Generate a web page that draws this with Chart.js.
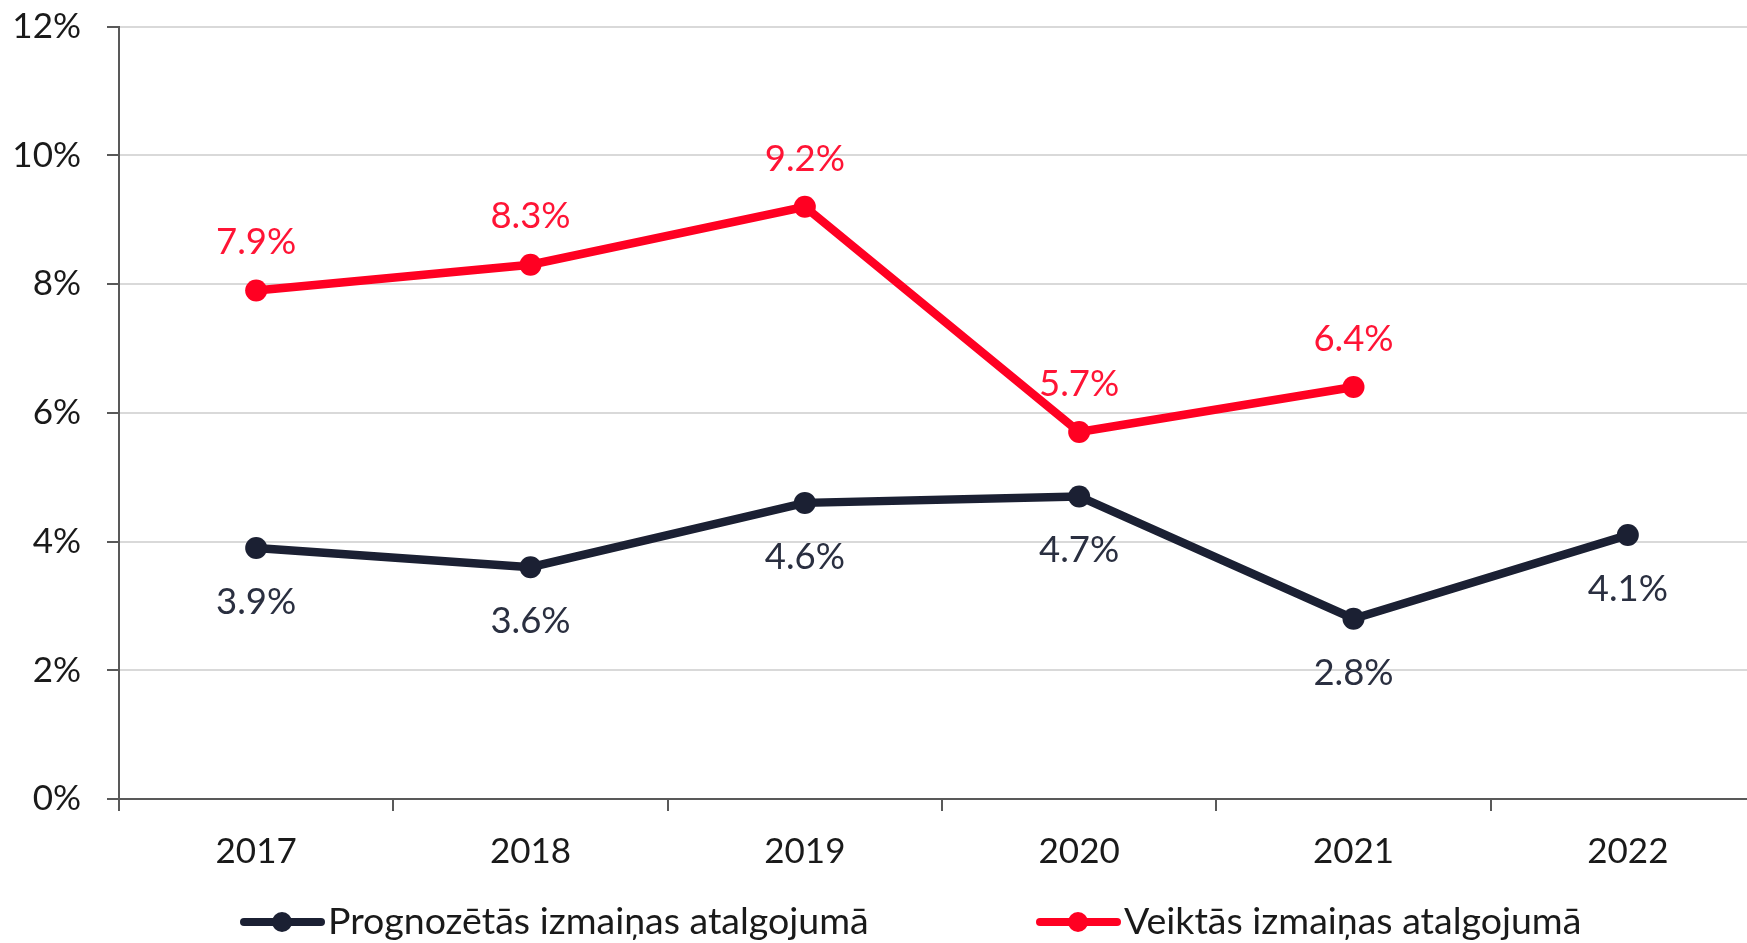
<!DOCTYPE html>
<html><head><meta charset="utf-8">
<script src="https://cdn.jsdelivr.net/npm/chart.js@4.4.1/dist/chart.umd.min.js"></script>
<style>html,body{margin:0;padding:0;background:#fff;overflow:hidden;}#wrap{width:1770px;height:943px;}</style>
</head><body><div id="wrap"><canvas id="c" width="1770" height="943"></canvas></div>
<script>
const years = ['2017', '2018', '2019', '2020', '2021', '2022'];
const forecastLabel = 'Prognozētās izmaiņas atalgojumā';
const actualLabel = 'Veiktās izmaiņas atalgojumā';
const forecastValues = [3.9, 3.6, 4.6, 4.7, 2.8, 4.1];
const actualValues = [7.9, 8.3, 9.2, 5.7, 6.4, null];
const yTickValues = [0, 2, 4, 6, 8, 10, 12];

const NAVY = '#1b2033';
const RED = '#ff0022';
const FONT = 'Lato, "Noto Sans", sans-serif';
const FS = 35;
const LABEL_FS = 36.5;
const LEGEND_FS = 37.5;

const dataLabels = {
  id: 'dataLabels',
  afterDatasetsDraw(chart) {
    const ctx = chart.ctx;
    ctx.save();
    ctx.font = LABEL_FS + 'px ' + FONT;
    ctx.textAlign = 'center';
    ctx.textBaseline = 'middle';
    chart.data.datasets.forEach((ds, i) => {
      const meta = chart.getDatasetMeta(i);
      meta.data.forEach((pt, j) => {
        const v = ds.data[j];
        if (v === null || v === undefined) return;
        ctx.fillStyle = ds.labelColor;
        ctx.fillText(v.toFixed(1) + '%', pt.x, pt.y + ds.labelOffset);
      });
    });
    ctx.restore();
  }
};

const customLegend = {
  id: 'customLegend',
  afterDraw(chart) {
    const ctx = chart.ctx;
    const items = [{x: 240, ds: chart.data.datasets[0]}, {x: 1036, ds: chart.data.datasets[1]}];
    const y = 922;
    ctx.save();
    ctx.font = LEGEND_FS + 'px ' + FONT;
    ctx.textBaseline = 'middle';
    ctx.textAlign = 'left';
    items.forEach(it => {
      ctx.strokeStyle = it.ds.borderColor;
      ctx.lineWidth = 8;
      ctx.lineCap = 'round';
      ctx.beginPath();
      ctx.moveTo(it.x + 4, y);
      ctx.lineTo(it.x + 81, y);
      ctx.stroke();
      ctx.fillStyle = it.ds.borderColor;
      ctx.beginPath();
      ctx.arc(it.x + 42, y, 10, 0, Math.PI * 2);
      ctx.fill();
      ctx.fillStyle = '#1a1a1a';
      ctx.fillText(it.ds.label, it.x + 88, y);
    });
    ctx.restore();
  }
};

new Chart(document.getElementById('c'), {
  type: 'line',
  data: {
    labels: years,
    datasets: [
      {
        label: forecastLabel,
        data: forecastValues,
        borderColor: NAVY,
        backgroundColor: NAVY,
        borderWidth: 8.5,
        pointRadius: 11,
        pointHoverRadius: 11,
        pointBorderWidth: 0,
        tension: 0,
        labelColor: '#2a2f40',
        labelOffset: 54
      },
      {
        label: actualLabel,
        data: actualValues,
        borderColor: RED,
        backgroundColor: RED,
        borderWidth: 8.5,
        pointRadius: 11,
        pointHoverRadius: 11,
        pointBorderWidth: 0,
        tension: 0,
        spanGaps: false,
        labelColor: '#ff1435',
        labelOffset: -48
      }
    ]
  },
  options: {
    responsive: false,
    animation: false,
    events: [],
    layout: {autoPadding: false, padding: {top: 26.5, left: 0, right: 5, bottom: 64}},
    plugins: {legend: {display: false}, tooltip: {enabled: false}},
    scales: {
      x: {
        type: 'category',
        offset: true,
        afterFit(s) { s.height = 80; },
        grid: {offset: true, drawOnChartArea: false, drawTicks: true, tickLength: 12, color: '#595959', lineWidth: 2},
        border: {color: '#595959', width: 2},
        ticks: {color: '#1a1a1a', font: {family: FONT, size: FS}, padding: 20}
      },
      y: {
        min: 0,
        max: 12,
        afterFit(s) { s.width = 119; },
        afterBuildTicks(s) { s.ticks = yTickValues.map(v => ({value: v})); },
        grid: {
          color: c => (c.tick && c.tick.value === 0) ? 'rgba(0,0,0,0)' : '#d9d9d9',
          tickColor: '#595959',
          lineWidth: 2,
          tickLength: 12
        },
        border: {color: '#595959', width: 2},
        ticks: {color: '#1a1a1a', font: {family: FONT, size: FS, lineHeight: 0.02}, padding: 26, callback: v => v + '%'}
      }
    }
  },
  plugins: [dataLabels, customLegend]
});
</script>
</body></html>
